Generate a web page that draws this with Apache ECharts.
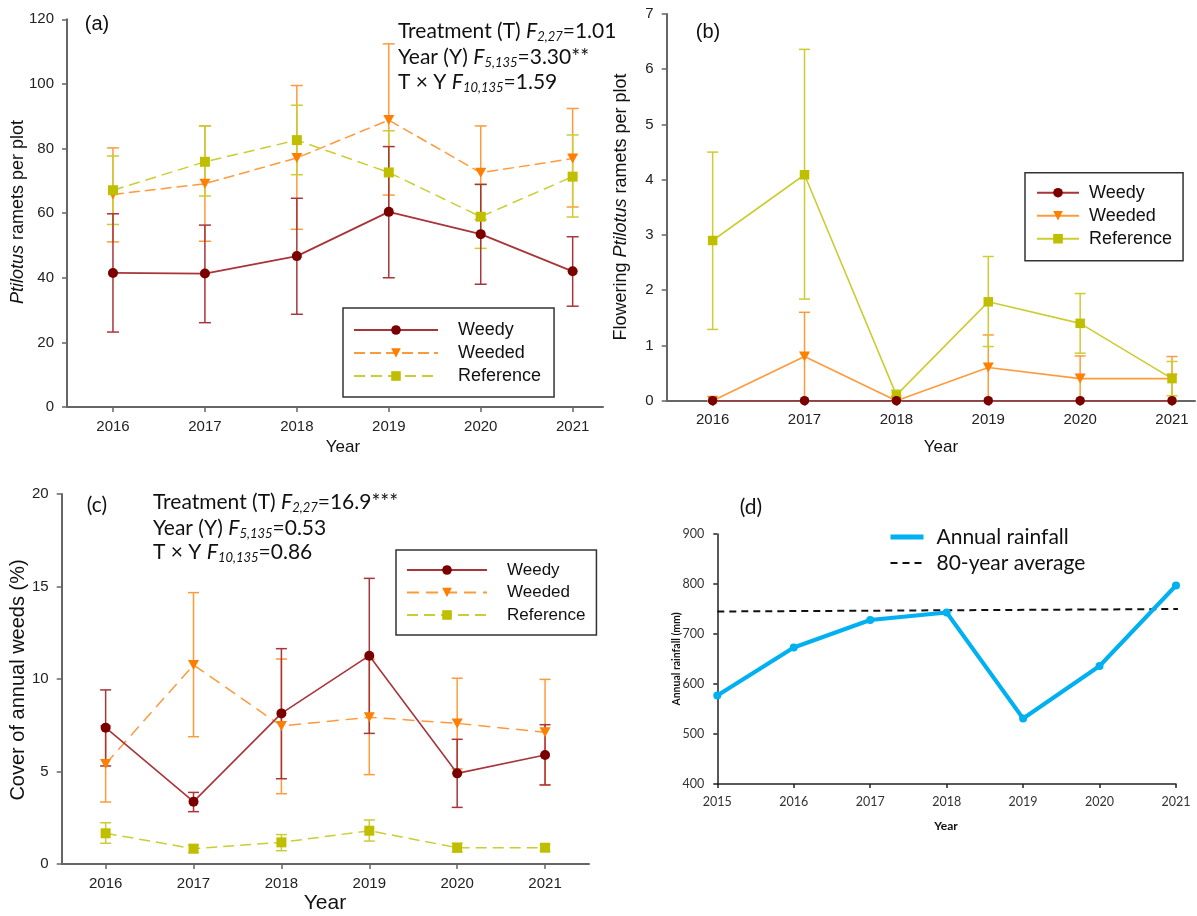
<!DOCTYPE html>
<html>
<head>
<meta charset="utf-8">
<script src="https://cdn.jsdelivr.net/npm/echarts@6/dist/echarts.min.js"></script>
<style>
  html, body { margin: 0; background: #fff; }
  #chart { width: 1197px; height: 916px; }
</style>
</head>
<body>
<div id="chart"></div>
<script>
  var years = [2016, 2017, 2018, 2019, 2020, 2021];
  var rainYears = [2015, 2016, 2017, 2018, 2019, 2020, 2021];

  // (a) Ptilotus ramets per plot
  var weedyA = [41.5, 41.3, 46.7, 60.4, 53.5, 42.0];
  var weedyALo = [23.2, 26.1, 28.7, 40.0, 38.0, 31.2];
  var weedyAHi = [59.8, 56.3, 64.6, 80.6, 68.9, 52.7];
  var weededA = [65.8, 69.1, 77.1, 88.8, 72.5, 76.9];
  var weededALo = [51.1, 51.3, 55.0, 65.6, 58.0, 61.9];
  var weededAHi = [80.2, 87.0, 99.5, 112.4, 87.0, 92.4];
  var refA = [67.1, 75.9, 82.6, 72.6, 58.9, 71.3];
  var refALo = [56.5, 65.3, 71.9, 59.8, 49.1, 58.8];
  var refAHi = [77.7, 87.0, 93.4, 85.5, 68.9, 84.2];

  // (b) flowering Ptilotus ramets per plot
  var weedyB = [0, 0, 0, 0, 0, 0];
  var weededB = [0, 0.8, 0, 0.6, 0.4, 0.4];
  var weededBLo = [0, 0, 0, 0, 0, 0];
  var weededBHi = [0, 1.6, 0, 1.19, 0.81, 0.8];
  var refB = [2.9, 4.09, 0.1, 1.79, 1.4, 0.4];
  var refBLo = [1.29, 1.84, 0, 0.98, 0.86, 0.09];
  var refBHi = [4.5, 6.36, 0.19, 2.61, 1.94, 0.71];

  // (c) cover of annual weeds (%)
  var weedyC = [7.37, 3.37, 8.14, 11.26, 4.9, 5.89];
  var weedyCLo = [5.3, 2.83, 4.61, 7.06, 3.06, 4.27];
  var weedyCHi = [9.41, 3.87, 11.64, 15.44, 6.74, 7.53];
  var weededC = [5.41, 10.76, 7.46, 7.93, 7.6, 7.12];
  var weededCLo = [3.35, 6.88, 3.8, 4.83, 5.14, 4.29];
  var weededCHi = [7.46, 14.67, 11.08, 11.06, 10.04, 9.98];
  var refC = [1.66, 0.83, 1.17, 1.8, 0.88, 0.88];
  var refCLo = [1.12, 0.62, 0.72, 1.24, 0.65, 0.7];
  var refCHi = [2.23, 1.02, 1.59, 2.38, 1.12, 1.05];

  // (d) annual rainfall (mm)
  var rainfall = [577, 673, 728, 743, 531, 636, 797];
  var avgYears = [2015, 2021.1];
  var avgRain = [745, 750];

  var C_WEEDY = '#7a0000', L_WEEDY = '#a8353a';
  var C_WEEDED = '#ff7f00', L_WEEDED = '#ff9a3c';
  var C_REF = '#bfbf00', L_REF = '#cccc33';
  var TRI = 'path://M0,0L10,0L5,9Z';

  function pairs(xs, ys) { return xs.map(function (x, i) { return [x, ys[i]]; }); }
  function triples(xs, lo, hi) { return xs.map(function (x, i) { return [x, lo[i], hi[i]]; }); }

  function lineS(name, idx, vals, symbol, size, color, lineColor, dash, width) {
    return {
      name: name, type: 'line', xAxisIndex: idx, yAxisIndex: idx,
      data: pairs(years, vals), symbol: symbol, symbolSize: size, z: 3,
      itemStyle: { color: color },
      lineStyle: { color: lineColor, width: width || 1.6, type: dash || 'solid' },
      emphasis: { disabled: true }, animation: false
    };
  }

  function errS(idx, lo, hi, color, cap) {
    return {
      type: 'custom', xAxisIndex: idx, yAxisIndex: idx, z: 2, silent: true,
      data: triples(years, lo, hi),
      renderItem: function (params, api) {
        var a = api.coord([api.value(0), api.value(1)]);
        var b = api.coord([api.value(0), api.value(2)]);
        var st = { stroke: color, lineWidth: 1.5 };
        return { type: 'group', children: [
          { type: 'line', shape: { x1: a[0], y1: a[1], x2: b[0], y2: b[1] }, style: st },
          { type: 'line', shape: { x1: a[0] - cap, y1: a[1], x2: a[0] + cap, y2: a[1] }, style: st },
          { type: 'line', shape: { x1: b[0] - cap, y1: b[1], x2: b[0] + cap, y2: b[1] }, style: st }
        ] };
      },
      animation: false
    };
  }

  var tickFont = { fontFamily: 'Liberation Sans', fontSize: 15, color: '#222' };

  function xAx(idx, min, max) {
    return {
      type: 'value', gridIndex: idx, min: min, max: max,
      axisLine: { lineStyle: { color: '#666', width: 2 } },
      axisTick: { customValues: years, length: 5, lineStyle: { color: '#666', width: 1.5 } },
      axisLabel: Object.assign({ customValues: years, margin: 12, formatter: function (v) { return String(v); } }, tickFont),
      splitLine: { show: false }
    };
  }
  function yAx(idx, min, max, step) {
    return {
      type: 'value', gridIndex: idx, min: min, max: max, interval: step,
      axisLine: { show: true, lineStyle: { color: '#666', width: 2 } },
      axisTick: { show: true, length: 5, lineStyle: { color: '#666', width: 1.5 } },
      axisLabel: Object.assign({ margin: 13 }, tickFont),
      splitLine: { show: false }
    };
  }

  function legendBox(idx, left, top, iw, pad, gap, fs, textPad) {
    return {
      orient: 'vertical', left: left, top: top, itemWidth: iw, itemHeight: 12, itemGap: gap,
      padding: pad, borderColor: '#333', borderWidth: 1.5, selectedMode: false,
      data: ['Weedy#' + idx, 'Weeded#' + idx, 'Reference#' + idx],
      formatter: function (n) { return n.split('#')[0]; },
      textStyle: { fontFamily: 'Liberation Sans', fontSize: fs, color: '#111', lineHeight: 20, padding: [0, 0, 0, textPad] }
    };
  }

  var statRich = {
    i: { font: 'italic 21px Lato', color: '#111' },
    s: { font: 'italic 13px Lato', color: '#111', verticalAlign: 'bottom', lineHeight: 10 }
  };
  function statLine(x, y, text) {
    return { type: 'text', x: x, y: y, z: 10,
      style: { text: text, font: '21px Lato', fill: '#111', align: 'left', verticalAlign: 'middle', lineHeight: 24, rich: statRich } };
  }
  function plainText(x, y, text, font, rot, rich) {
    return { type: 'text', x: x, y: y, rotation: rot || 0, z: 10,
      style: { text: text, font: font, fill: '#111', align: 'center', verticalAlign: 'middle', rich: rich } };
  }

  var option = {
    backgroundColor: '#fff',
    animation: false,
    grid: [
      { left: 67, top: 19.3, width: 536, height: 387.7 },
      { left: 666.7, top: 14, width: 528.3, height: 386.7 },
      { left: 61.7, top: 494, width: 527.3, height: 370 },
      { left: 717.3, top: 534, width: 458.7, height: 250 }
    ],
    xAxis: [
      xAx(0, 2015.5, 2021.33),
      xAx(1, 2015.5, 2021.25),
      xAx(2, 2015.5, 2021.5),
      {
        type: 'value', gridIndex: 3, min: 2015, max: 2021, interval: 1,
        axisLine: { lineStyle: { color: '#222', width: 1.5 } },
        axisTick: { length: 4, lineStyle: { color: '#222', width: 1.5 } },
        axisLabel: { margin: 11, fontFamily: 'Lato', fontSize: 12.5, color: '#333', formatter: function (v) { return String(v); } },
        splitLine: { show: false }
      }
    ],
    yAxis: [
      yAx(0, 0, 120, 20),
      yAx(1, 0, 7, 1),
      yAx(2, 0, 20, 5),
      {
        type: 'value', gridIndex: 3, min: 400, max: 900, interval: 100,
        axisLine: { show: true, lineStyle: { color: '#222', width: 1.5 } },
        axisTick: { show: true, length: 4, lineStyle: { color: '#222', width: 1.5 } },
        axisLabel: { margin: 13, fontFamily: 'Lato', fontSize: 12.5, color: '#333' },
        splitLine: { show: false }
      }
    ],
    legend: [
      legendBox('a', 343, 308, 84, [12, 13, 11, 10], 3, 18, 15),
      legendBox('b', 1025, 172.7, 42, [10, 11, 12, 11], 3, 18, 5),
      legendBox('c', 396, 550, 80, [10, 11, 10, 10], 2.5, 17, 15),
      {
        orient: 'vertical', left: 888, top: 525, itemWidth: 33, itemHeight: 12, itemGap: 2,
        padding: 0, selectedMode: false,
        data: [
          { name: 'Annual rainfall', itemStyle: { opacity: 0 }, lineStyle: { width: 5 } },
          { name: '80-year average', itemStyle: { opacity: 0 }, lineStyle: { width: 2 } }
        ],
        textStyle: { fontFamily: 'Lato', fontSize: 21, color: '#111', lineHeight: 24, padding: [0, 0, 0, 8] }
      }
    ],
    graphic: [
      plainText(97, 24, '(a)', '20px Liberation Sans'),
      plainText(708, 32, '(b)', '20px Liberation Sans'),
      plainText(97, 505, '(c)', '21px Lato'),
      plainText(751, 507, '(d)', '21px Lato'),
      statLine(398, 31, 'Treatment (T) {i|F}{s|2,27}=1.01'),
      statLine(398, 57, 'Year (Y) {i|F}{s|5,135}=3.30**'),
      statLine(398, 82, 'T \u00d7 Y {i|F}{s|10,135}=1.59'),
      statLine(153, 502, 'Treatment (T) {i|F}{s|2,27}=16.9***'),
      statLine(153, 528, 'Year (Y) {i|F}{s|5,135}=0.53'),
      statLine(153, 552, 'T \u00d7 Y {i|F}{s|10,135}=0.86'),
      plainText(18, 212, '{i|Ptilotus} ramets per plot', '18px Liberation Sans', Math.PI / 2,
        { i: { font: 'italic 18px Liberation Sans', color: '#111' } }),
      plainText(621, 207, 'Flowering {i|Ptilotus} ramets per plot', '18px Liberation Sans', Math.PI / 2,
        { i: { font: 'italic 18px Liberation Sans', color: '#111' } }),
      plainText(18, 680, 'Cover of annual weeds (%)', '20px Liberation Sans', Math.PI / 2),
      plainText(677, 659, 'Annual rainfall (mm)', 'bold 10.5px Lato', Math.PI / 2),
      plainText(343, 447, 'Year', '17px Liberation Sans'),
      plainText(941, 447, 'Year', '17px Liberation Sans'),
      plainText(325, 903, 'Year', '21px Liberation Sans'),
      plainText(946, 826, 'Year', 'bold 12px Lato')
    ],
    series: [
      errS(0, weededALo, weededAHi, L_WEEDED, 6),
      errS(0, refALo, refAHi, L_REF, 6),
      errS(0, weedyALo, weedyAHi, L_WEEDY, 6),
      lineS('Weeded#a', 0, weededA, TRI, [11, 10], C_WEEDED, L_WEEDED, [11, 5], 1.5),
      lineS('Reference#a', 0, refA, 'rect', 10, C_REF, L_REF, [11, 6], 1.5),
      lineS('Weedy#a', 0, weedyA, 'circle', 10, C_WEEDY, L_WEEDY, 'solid', 1.8),

      errS(1, weededBLo, weededBHi, L_WEEDED, 5.5),
      errS(1, refBLo, refBHi, L_REF, 5.5),
      lineS('Weeded#b', 1, weededB, TRI, [11, 10], C_WEEDED, L_WEEDED, 'solid', 1.6),
      lineS('Reference#b', 1, refB, 'rect', 9.5, C_REF, L_REF, 'solid', 1.6),
      lineS('Weedy#b', 1, weedyB, 'circle', 9.5, C_WEEDY, L_WEEDY, 'solid', 1.6),

      errS(2, weededCLo, weededCHi, L_WEEDED, 5.5),
      errS(2, refCLo, refCHi, L_REF, 5.5),
      errS(2, weedyCLo, weedyCHi, L_WEEDY, 5.5),
      lineS('Weeded#c', 2, weededC, TRI, [11, 10], C_WEEDED, L_WEEDED, [12, 7], 1.5),
      lineS('Reference#c', 2, refC, 'rect', 10, C_REF, L_REF, [11, 6], 1.5),
      lineS('Weedy#c', 2, weedyC, 'circle', 10, C_WEEDY, L_WEEDY, 'solid', 1.6),

      {
        name: '80-year average', type: 'line', xAxisIndex: 3, yAxisIndex: 3,
        data: pairs(avgYears, avgRain), symbol: 'none', clip: false,
        itemStyle: { color: '#111' },
        lineStyle: { color: '#111', width: 2, type: [7, 5] }, z: 2
      },
      {
        name: 'Annual rainfall', type: 'line', xAxisIndex: 3, yAxisIndex: 3,
        data: pairs(rainYears, rainfall), symbol: 'circle', symbolSize: 8, clip: false,
        itemStyle: { color: '#00b0f0' },
        lineStyle: { color: '#00b0f0', width: 4 }, z: 3
      }
    ]
  };

  var chart = echarts.init(document.getElementById('chart'));
  chart.setOption(option);
</script>
</body>
</html>
